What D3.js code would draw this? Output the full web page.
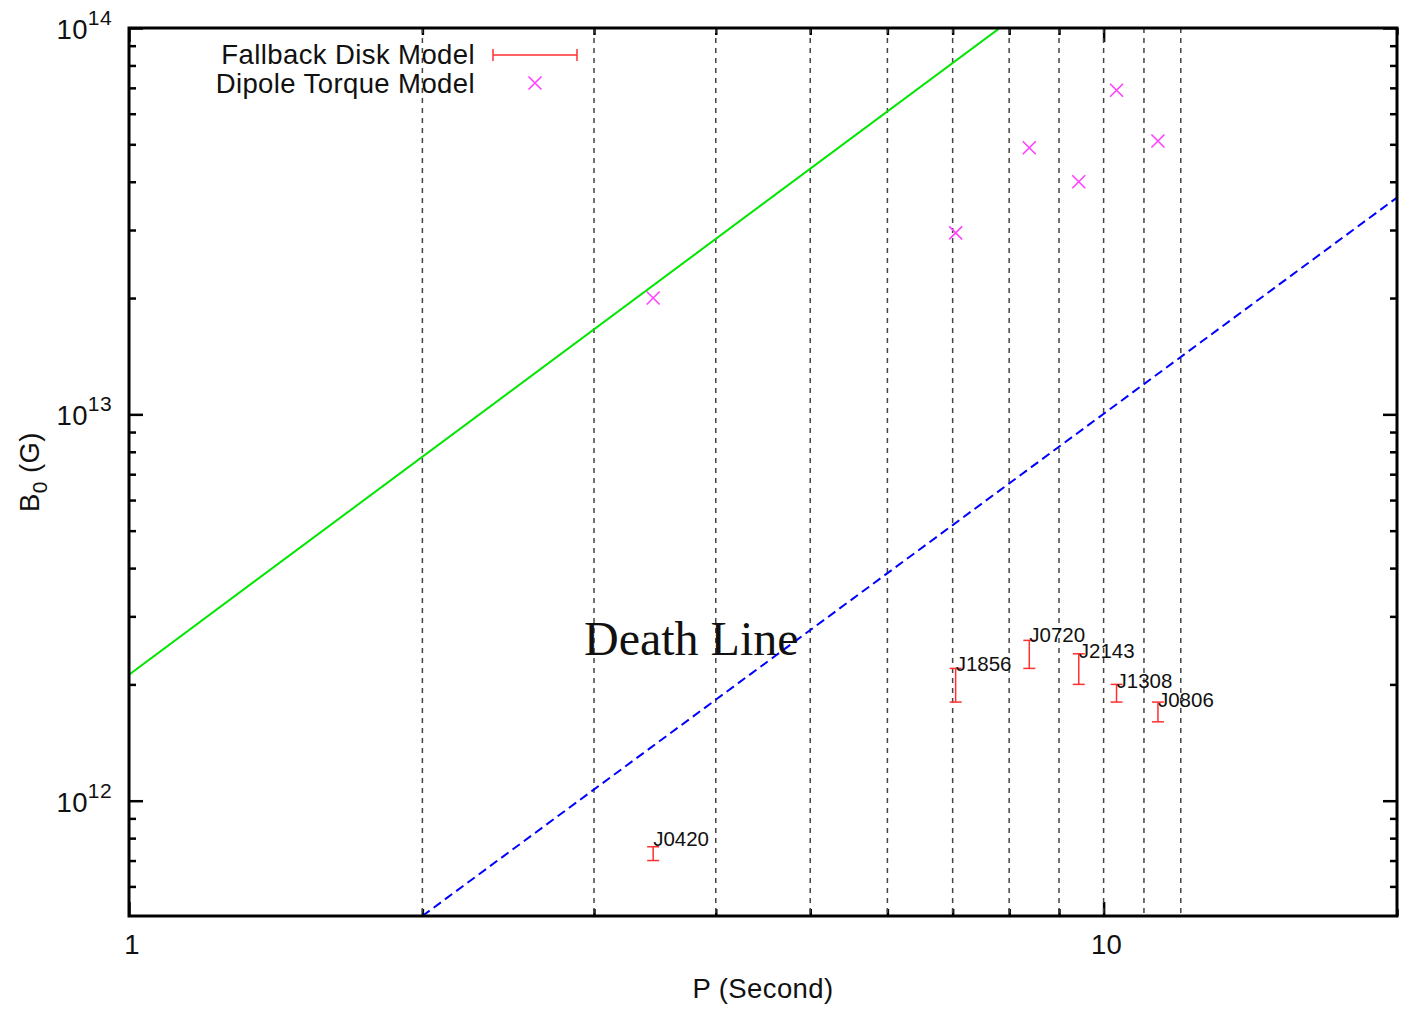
<!DOCTYPE html>
<html lang="en">
<head>
  <meta charset="UTF-8"/>
  <title>B0 vs P</title>
  <style>
    *{margin:0;padding:0}
    body{background:#fff;font-family:"Liberation Sans",Arial,sans-serif}
    svg text{fill:#111}
    .big{font-size:27.5px;letter-spacing:0.4px}
  </style>
</head>
<body>
  <div id="chart"></div>
  <script src="https://d3js.org/d3.v7.min.js"></script>
  <script>
    // pulsars (XDINS) and their periods
    const names   = ['J0420','J1856','J0720','J2143','J1308','J0806'];
    const periods = [3.45, 7.05, 8.39, 9.43, 10.31, 11.37];
    // dipole torque model field
    const dipoleB = [2.0e13, 2.95e13, 4.9e13, 4.0e13, 6.9e13, 5.1e13];
    // fallback disk model range
    const diskLow  = [7.0e11, 1.8e12, 2.2e12, 2.0e12, 1.8e12, 1.6e12];
    const diskHigh = [7.6e11, 2.2e12, 2.6e12, 2.4e12, 2.0e12, 1.8e12];
    const labelB   = [8.0e11, 2.27e12, 2.7e12, 2.45e12, 2.05e12, 1.83e12];
    // straight lines in log-log space
    const greenLine = [[1, 2.12e12], [20, 5.8e14]];
    const deathLine = [[2, 5.03e11], [20, 3.64e13]];
    // vertical dashed marks
    const gridP = [2,3,4,5,6,7,8,9,10,11,12];
    const xMajor = [1, 10], xMinor = [2,3,4,5,6,7,8,9,20];
    const yMajor = [1e12, 1e13, 1e14];

    const width = 1403, height = 1009;
    const m = {top:28, right:6, bottom:93, left:129};
    const W = width - m.left - m.right, H = height - m.top - m.bottom;

    const x = d3.scaleLog().domain([1, 20]).range([0, W]);
    const y = d3.scaleLog().domain([5.03e11, 1e14]).range([H, 0]);
    const yMinor = y.ticks().filter(v => !yMajor.includes(v));

    const svg = d3.select('#chart').append('svg')
      .attr('width', width).attr('height', height);
    const g = svg.append('g').attr('transform', `translate(${m.left},${m.top})`);

    svg.append('defs').append('clipPath').attr('id','clip')
      .append('rect').attr('width', W).attr('height', H);

    // ticks on all four sides, pointing inward
    function ticks(axisFn, vals, len, tr) {
      const a = g.append('g').attr('transform', tr)
        .call(axisFn.tickValues(vals).tickSize(-len).tickFormat(''));
      a.select('.domain').remove();
      a.selectAll('line').attr('stroke','#000').attr('stroke-width',2.5);
    }
    ticks(d3.axisBottom(x), xMajor, 14, `translate(0,${H})`);
    ticks(d3.axisBottom(x), xMinor, 7, `translate(0,${H})`);
    ticks(d3.axisTop(x), xMajor, 14, 'translate(0,0)');
    ticks(d3.axisTop(x), xMinor, 7, 'translate(0,0)');
    ticks(d3.axisLeft(y), yMajor, 14, 'translate(0,0)');
    ticks(d3.axisLeft(y), yMinor, 7, 'translate(0,0)');
    ticks(d3.axisRight(y), yMajor, 14, `translate(${W},0)`);
    ticks(d3.axisRight(y), yMinor, 7, `translate(${W},0)`);

    // vertical dashed lines
    g.selectAll('.grid').data(gridP).join('line')
      .attr('x1', d => x(d)).attr('x2', d => x(d))
      .attr('y1', 0).attr('y2', H)
      .attr('stroke','#444').attr('stroke-width',1.5).attr('stroke-dasharray','5,5');

    const line = d3.line().x(d => x(d[0])).y(d => y(d[1]));
    const plot = g.append('g').attr('clip-path','url(#clip)');
    plot.append('path').attr('d', line(greenLine))
      .attr('stroke','#00e600').attr('stroke-width',2).attr('fill','none');
    plot.append('path').attr('d', line(deathLine))
      .attr('stroke','#0000ff').attr('stroke-width',2).attr('stroke-dasharray','9,5').attr('fill','none');

    // dipole crosses
    const cross = (px, py, s) => `M${px-s},${py-s}L${px+s},${py+s}M${px-s},${py+s}L${px+s},${py-s}`;
    g.selectAll('.dip').data(periods).join('path')
      .attr('d', (p, i) => cross(x(p), y(dipoleB[i]), 6.5))
      .attr('stroke','#ff40ff').attr('stroke-width',1.6).attr('fill','none');

    // fallback disk error bars
    const bars = g.selectAll('.bar').data(periods).join('g')
      .attr('stroke','#ff3030').attr('stroke-width',1.5);
    bars.append('line').attr('x1', p => x(p)).attr('x2', p => x(p))
      .attr('y1', (p, i) => y(diskLow[i])).attr('y2', (p, i) => y(diskHigh[i]));
    bars.append('line').attr('x1', p => x(p) - 6).attr('x2', p => x(p) + 6)
      .attr('y1', (p, i) => y(diskLow[i])).attr('y2', (p, i) => y(diskLow[i]));
    bars.append('line').attr('x1', p => x(p) - 6).attr('x2', p => x(p) + 6)
      .attr('y1', (p, i) => y(diskHigh[i])).attr('y2', (p, i) => y(diskHigh[i]));

    g.selectAll('.lbl').data(periods).join('text')
      .attr('x', p => x(p)).attr('y', (p, i) => y(labelB[i]))
      .attr('dominant-baseline','central').style('font-size','20.5px')
      .text((p, i) => names[i]);

    g.append('text').attr('x', 455).attr('y', 627)
      .style('font-family','"Liberation Serif","Times New Roman",serif').style('font-size','48px')
      .text('Death Line');

    // frame
    g.append('rect').attr('width', W).attr('height', H)
      .attr('fill','none').attr('stroke','#000').attr('stroke-width',3);

    // tick labels
    g.selectAll('.xl').data(xMajor).join('text').attr('class','big')
      .attr('x', d => x(d) + 3).attr('y', H + 38).attr('text-anchor','middle')
      .text(d => d);
    const yl = g.selectAll('.yl').data(yMajor).join('text').attr('class','big')
      .attr('x', -17).attr('y', d => y(d) + 11).attr('text-anchor','end');
    yl.append('tspan').text('10');
    yl.append('tspan').attr('dy', -14).style('font-size','21px').text(d => Math.round(Math.log10(d)));

    // axis titles
    g.append('text').attr('class','big').attr('x', 634).attr('y', H + 82).attr('text-anchor','middle')
      .text('P (Second)');
    const yt = svg.append('text').attr('class','big').attr('transform','translate(39,472) rotate(-90)')
      .attr('text-anchor','middle');
    yt.append('tspan').text('B');
    yt.append('tspan').attr('dy', 8).style('font-size','21px').text('0');
    yt.append('tspan').attr('dy', -8).text(' (G)');

    // legend
    const lg = svg.append('g');
    lg.append('text').attr('class','big').attr('x', 475).attr('y', 54).attr('dy','0.35em').attr('text-anchor','end')
      .text('Fallback Disk Model');
    lg.append('text').attr('class','big').attr('x', 475).attr('y', 83).attr('dy','0.35em').attr('text-anchor','end')
      .text('Dipole Torque Model');
    const le = lg.append('g').attr('stroke','#ff3030').attr('stroke-width',1.5);
    le.append('line').attr('x1',493).attr('x2',577).attr('y1',55).attr('y2',55);
    le.append('line').attr('x1',493).attr('x2',493).attr('y1',49).attr('y2',61);
    le.append('line').attr('x1',577).attr('x2',577).attr('y1',49).attr('y2',61);
    lg.append('path').attr('d', cross(535, 83, 6.5))
      .attr('stroke','#ff40ff').attr('stroke-width',1.6).attr('fill','none');
  </script>
</body>
</html>
